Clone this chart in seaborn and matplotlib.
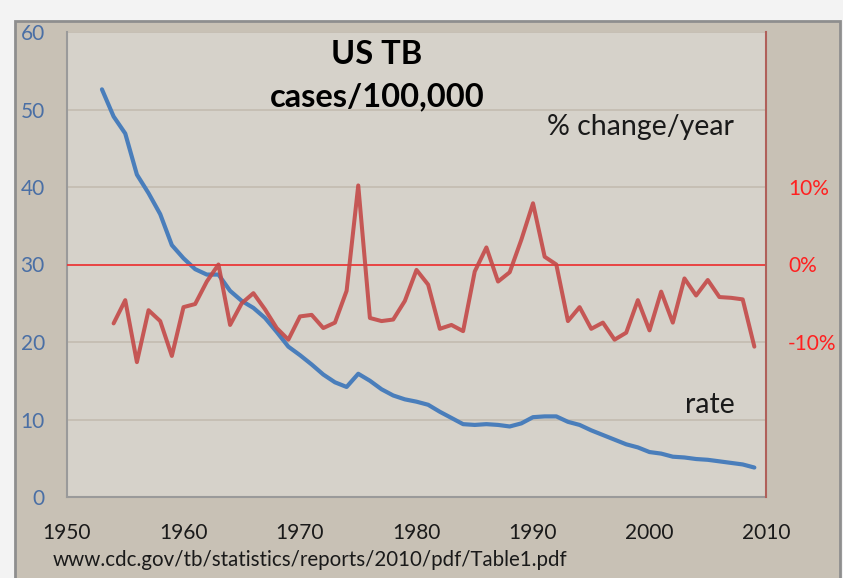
import matplotlib
matplotlib.use("Agg")
import matplotlib.pyplot as plt
import matplotlib.patches as patches
import seaborn as sns

# US TB case rate per 100,000 and the yearly % change
years = list(range(1953, 2010))
rate = [52.6, 49.1, 46.9, 41.6, 39.2, 36.5, 32.5, 30.8, 29.4, 28.7,
        28.7, 26.6, 25.3, 24.4, 23.1, 21.3, 19.4, 18.3, 17.1, 15.8,
        14.8, 14.2, 15.9, 15.0, 13.9, 13.1, 12.6, 12.3, 11.9, 11.0,
        10.2, 9.4, 9.3, 9.4, 9.3, 9.1, 9.5, 10.3, 10.4, 10.4,
        9.7, 9.3, 8.6, 8.0, 7.4, 6.8, 6.4, 5.8, 5.6, 5.2,
        5.1, 4.9, 4.8, 4.6, 4.4, 4.2, 3.8]

change_years = list(range(1954, 2010))
pct_change = [-7.6, -4.6, -12.6, -5.9, -7.3, -11.8, -5.5, -5.1, -2.2, 0.0,
              -7.8, -5.0, -3.7, -5.8, -8.2, -9.7, -6.7, -6.5, -8.2, -7.5,
              -3.4, 10.2, -6.9, -7.3, -7.1, -4.7, -0.7, -2.6, -8.3, -7.8,
              -8.6, -0.9, 2.2, -2.2, -1.0, 3.2, 7.9, 1.0, 0.0, -7.3,
              -5.5, -8.3, -7.5, -9.7, -8.8, -4.6, -8.5, -3.5, -7.5, -1.8,
              -4.0, -2.0, -4.2, -4.3, -4.5, -10.6]

left_ticks = [0, 10, 20, 30, 40, 50, 60]
right_ticks = [-10, 0, 10]
right_labels = ["-10%", "0%", "10%"]
x_ticks = [1950, 1960, 1970, 1980, 1990, 2000, 2010]

sns.set_style("white")
plt.rcParams["font.family"] = ["Lato", "DejaVu Sans"]

fig = plt.figure(figsize=(8.43, 5.78), dpi=100, facecolor="#f3f3f3")
W, H = 843, 578

# outer panel, behind the axes
panel = patches.Rectangle((15 / W, -0.01), 825 / W, 563 / H,
                          transform=fig.transFigure,
                          facecolor="#c8c1b5", edgecolor="#8e8e8e",
                          linewidth=2, zorder=-10)
fig.patches.append(panel)

ax = fig.add_axes([67 / W, 1 - 497 / H, 699 / W, 465 / H])
ax.set_facecolor("#d6d2ca")

sns.lineplot(x=years, y=rate, ax=ax, color="#4a7ebb", linewidth=3.0, zorder=3)
ax.set_xlim(1950, 2010)
ax.set_ylim(0, 60)
ax.set_xticks(x_ticks)
ax.set_yticks(left_ticks)
ax.yaxis.grid(True, color="#c5beb2", linewidth=1.3)
ax.set_axisbelow(True)
ax.tick_params(axis="x", direction="out", length=10, width=1.3, color="#8e8e8e",
               pad=9, labelsize=15, labelcolor="#1a1a1a")
ax.tick_params(axis="y", length=0, pad=16, labelsize=15, labelcolor="#4a6fa5")
for s in ["top", "right"]:
    ax.spines[s].set_visible(False)
ax.spines["left"].set_color("#9a9a9a")
ax.spines["left"].set_linewidth(1.5)
ax.spines["bottom"].set_color("#9a9a9a")
ax.spines["bottom"].set_linewidth(1.5)

ax2 = ax.twinx()
ax2.axhline(0, color="#f03030", linewidth=1.2, zorder=2)
sns.lineplot(x=change_years, y=pct_change, ax=ax2, color="#c44a48",
             linewidth=2.9, alpha=0.9, zorder=3)
ax2.set_ylim(-30, 30)
ax2.set_yticks(right_ticks)
ax2.set_yticklabels(right_labels)
ax2.tick_params(axis="y", length=0, pad=16, labelsize=15, labelcolor="#ff2020")
for s in ["top", "left", "bottom"]:
    ax2.spines[s].set_visible(False)
ax2.spines["right"].set_color("#b0605a")
ax2.spines["right"].set_linewidth(1.5)
ax2.set_xlim(1950, 2010)

fig.text(377 / W, 1 - 54 / H, "US TB", ha="center", va="center",
         fontsize=23.5, fontweight="bold", color="black")
fig.text(377 / W, 1 - 97 / H, "cases/100,000", ha="center", va="center",
         fontsize=23.5, fontweight="bold", color="black")
fig.text(640 / W, 1 - 127 / H, "% change/year", ha="center", va="center",
         fontsize=20.5, color="#1a1a1a")
fig.text(710 / W, 1 - 405 / H, "rate", ha="center", va="center",
         fontsize=20.5, color="#1a1a1a")
fig.text(53 / W, 1 - 560 / H, "www.cdc.gov/tb/statistics/reports/2010/pdf/Table1.pdf",
         ha="left", va="center", fontsize=14.8, color="#1a1a1a")

fig.savefig("out.png", dpi=100, facecolor=fig.get_facecolor())
